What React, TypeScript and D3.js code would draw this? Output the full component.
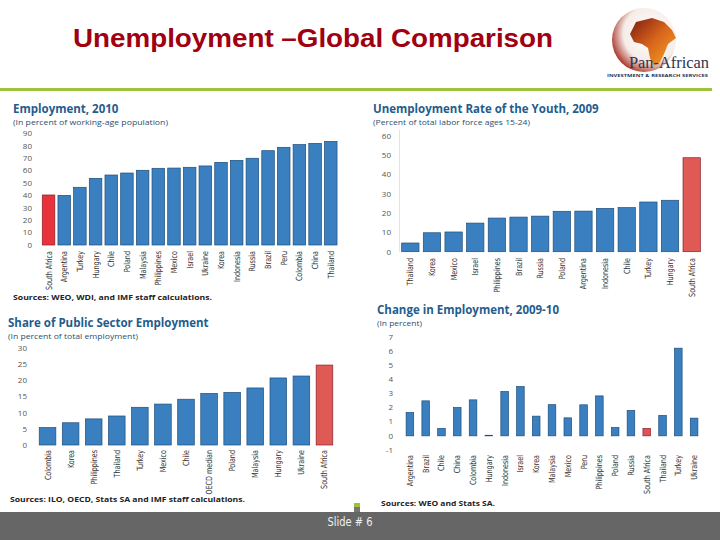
import React from 'react';
import * as d3 from 'd3';

// ---- data ----
const empCountries = ['South Africa', 'Argentina', 'Turkey', 'Hungary', 'Chile', 'Poland', 'Malaysia', 'Philippines', 'Mexico', 'Israel', 'Ukraine', 'Korea', 'Indonesia', 'Russia', 'Brazil', 'Peru', 'Colombia', 'China', 'Thailand'];
const empValues = [40.3, 40, 46.5, 53.7, 56.4, 58, 60.2, 61.8, 62, 62.6, 63.7, 66.6, 68.2, 69.9, 76, 78.7, 80.9, 81.9, 83.5];
const empTicks = [0, 10, 20, 30, 40, 50, 60, 70, 80, 90];

const youthCountries = ['Thailand', 'Korea', 'Mexico', 'Israel', 'Philippines', 'Brazil', 'Russia', 'Poland', 'Argentina', 'Indonesia', 'Chile', 'Turkey', 'Hungary', 'South Africa'];
const youthValues = [4.5, 9.8, 10.2, 14.8, 17.4, 17.9, 18.4, 20.9, 21, 22.4, 22.8, 25.7, 26.6, 48.6];
const youthTicks = [0, 10, 20, 30, 40, 50, 60];

const publicCountries = ['Colombia', 'Korea', 'Philippines', 'Thailand', 'Turkey', 'Mexico', 'Chile', 'OECD median', 'Poland', 'Malaysia', 'Hungary', 'Ukraine', 'South Africa'];
const publicValues = [5.4, 6.9, 8.1, 9.0, 11.7, 12.7, 14.2, 16.0, 16.3, 17.7, 20.8, 21.4, 24.8];
const publicTicks = [0, 5, 10, 15, 20, 25, 30];

const changeCountries = ['Argentina', 'Brazil', 'Chile', 'China', 'Colombia', 'Hungary', 'Indonesia', 'Israel', 'Korea', 'Malaysia', 'Mexico', 'Peru', 'Philippines', 'Poland', 'Russia', 'South Africa', 'Thailand', 'Turkey', 'Ukraine'];
const changeValues = [1.65, 2.47, 0.52, 2.0, 2.54, 0.04, 3.13, 3.48, 1.39, 2.2, 1.27, 2.19, 2.82, 0.59, 1.79, 0.52, 1.44, 6.19, 1.25];
const changeTicks = [-1, 0, 1, 2, 3, 4, 5, 6, 7];

const BLUE = '#3a80c1';
const BLUE_EDGE = '#1f4d78';
const TITLE_BLUE = '#1f5d8e';
const LABEL_FONT = '"Liberation Sans Narrow", "DejaVu Sans Condensed", Arial, sans-serif';
const HEAD_FONT = '"Open Sans", "DejaVu Sans", sans-serif';

type PanelProps = {
  title: string;
  subtitle: string;
  subtitleWidth: number;
  titleX: number;
  titleY: number;
  categories: string[];
  values: number[];
  ticks: number[];
  xRange: [number, number];
  yRange: [number, number];
  padInner: number;
  tickX: number;
  labelTop: number;
  red: string;
  axisLine?: boolean;
  source?: string;
  sourceX?: number;
  sourceY?: number;
  sourceWidth?: number;
};

const BarPanel = (p: PanelProps) => {
  const x = d3.scaleBand<string>()
    .domain(p.categories)
    .range(p.xRange)
    .paddingInner(p.padInner)
    .paddingOuter(p.padInner / 2);
  const y = d3.scaleLinear()
    .domain([p.ticks[0], p.ticks[p.ticks.length - 1]])
    .range(p.yRange);
  const y0 = y(Math.max(0, p.ticks[0]));

  return (
    <g>
      <text x={p.titleX} y={p.titleY - 1} fontFamily={HEAD_FONT} fontWeight="bold" fontSize={11.5} fill={TITLE_BLUE}>
        {p.title}
      </text>
      <text x={p.titleX} y={p.titleY + 11} fontFamily={HEAD_FONT} fontSize={8} fill="#2b4f72"
        textLength={p.subtitleWidth} lengthAdjust="spacingAndGlyphs">
        {p.subtitle}
      </text>

      {p.ticks.map(t => (
        <text key={t} x={p.tickX} y={y(t)} dy="0.35em" textAnchor="end"
          fontFamily={HEAD_FONT} fontSize={8} fill="#555">
          {t}
        </text>
      ))}

      {p.axisLine && (
        <line x1={p.xRange[0]} x2={p.xRange[0]} y1={p.yRange[1] - 6} y2={p.yRange[0]} stroke="#ddd" strokeWidth={0.8} />
      )}

      {p.categories.map((c, i) => {
        const v = p.values[i];
        const isSA = c === 'South Africa';
        return (
          <rect key={c}
            x={x(c)}
            y={Math.min(y(v), y0)}
            width={x.bandwidth()}
            height={Math.abs(y0 - y(v))}
            fill={isSA ? p.red : BLUE}
            stroke={isSA ? '#8a1f25' : BLUE_EDGE}
            strokeWidth={0.7}
          />
        );
      })}

      {p.categories.map(c => {
        const cx = (x(c) ?? 0) + x.bandwidth() / 2;
        return (
          <text key={c} transform={`translate(${cx},${p.labelTop}) rotate(-90) scale(0.84,1)`}
            dy="0.35em" textAnchor="end" fontFamily={LABEL_FONT} fontSize={8.5} fill="#333">
            {c}
          </text>
        );
      })}

      {p.source && (
        <text x={p.sourceX} y={p.sourceY} fontFamily={HEAD_FONT} fontWeight="bold" fontSize={7.8} fill="#222"
          textLength={p.sourceWidth} lengthAdjust="spacingAndGlyphs">
          {p.source}
        </text>
      )}
    </g>
  );
};

const Logo = () => (
  <g>
    <defs>
      <radialGradient id="globe" cx="0.62" cy="0.4" r="0.8">
        <stop offset="0" stopColor="#ffffff" />
        <stop offset="0.55" stopColor="#f6ece8" />
        <stop offset="0.82" stopColor="#a8362a" />
        <stop offset="1" stopColor="#5a0d0d" />
      </radialGradient>
      <linearGradient id="africa" x1="0" y1="0" x2="1" y2="1">
        <stop offset="0" stopColor="#7a1a10" />
        <stop offset="0.5" stopColor="#d9661c" />
        <stop offset="1" stopColor="#f5a623" />
      </linearGradient>
    </defs>
    <circle cx={644} cy={40} r={32} fill="url(#globe)" />
    <path d="M636,22 L652,18 L664,22 L672,30 L676,38 L668,44 L664,54 L660,62 L654,66 L650,58 L648,48 L642,44 L634,42 L630,34 Z"
      fill="url(#africa)" />
    <text x={629} y={68} fontFamily='"Liberation Serif", "DejaVu Serif", serif' fontSize={16} fill="#2c3550"
      textLength={80} lengthAdjust="spacingAndGlyphs">
      Pan-African
    </text>
    <text x={607} y={77} fontFamily={HEAD_FONT} fontSize={3.6} fontWeight="bold" fill="#2c3550"
      textLength={101} lengthAdjust="spacingAndGlyphs">
      INVESTMENT &amp; RESEARCH SERVICES
    </text>
  </g>
);

export default function App() {
  return (
    <svg width={720} height={540} style={{ position: 'absolute', left: 0, top: 0, background: '#fff' }}>
      <rect x={0} y={0} width={720} height={540} fill="#fff" />

      <text x={73} y={47} fontFamily='"Liberation Sans", Arial, sans-serif' fontWeight="bold" fontSize={26} fill="#a0000f"
        textLength={480} lengthAdjust="spacingAndGlyphs">
        Unemployment –Global Comparison
      </text>
      <rect x={0} y={88} width={712} height={3} fill="#9dc33b" />
      <Logo />

      <BarPanel
        title="Employment, 2010"
        subtitle="(In percent of working-age population)" subtitleWidth={155}
        titleX={13} titleY={114}
        categories={empCountries} values={empValues} ticks={empTicks}
        xRange={[40.7, 338.6]} yRange={[245, 133.3]} padInner={0.2}
        tickX={32} labelTop={251} red="#e8323c"
        source="Sources: WEO, WDI, and IMF staff calculations."
        sourceX={13} sourceY={300} sourceWidth={199}
      />

      <BarPanel
        title="Unemployment Rate of the Youth, 2009"
        subtitle="(Percent of total labor force ages 15-24)" subtitleWidth={157}
        titleX={373} titleY={114}
        categories={youthCountries} values={youthValues} ticks={youthTicks}
        xRange={[399.5, 702.5]} yRange={[251.7, 135.7]} padInner={0.2}
        tickX={391} labelTop={258} red="#e05a55" axisLine
      />

      <BarPanel
        title="Share of Public Sector Employment"
        subtitle="(In percent of total employment)" subtitleWidth={130}
        titleX={8} titleY={328}
        categories={publicCountries} values={publicValues} ticks={publicTicks}
        xRange={[36, 336]} yRange={[445, 348.3]} padInner={0.28}
        tickX={27} labelTop={450} red="#e05a55"
        source="Sources: ILO, OECD, Stats SA and IMF staff calculations."
        sourceX={10} sourceY={502} sourceWidth={235}
      />

      <BarPanel
        title="Change in Employment, 2009-10"
        subtitle="(In percent)" subtitleWidth={45}
        titleX={377} titleY={315}
        categories={changeCountries} values={changeValues} ticks={changeTicks}
        xRange={[402, 702]} yRange={[450, 336.7]} padInner={0.52}
        tickX={393} labelTop={455} red="#e0505a"
        source="Sources: WEO and Stats SA."
        sourceX={381} sourceY={506} sourceWidth={114}
      />

      <rect x={0} y={512} width={720} height={28} fill="#666666" />
      <rect x={354} y={503} width={6} height={4} fill="#9dc33b" />
      <rect x={354} y={507} width={6} height={5} fill="#777" />
      <text x={350} y={522} dy="0.35em" textAnchor="middle" fontFamily={LABEL_FONT} fontSize={12} fill="#f0f0f0"
        textLength={45} lengthAdjust="spacingAndGlyphs">
        Slide # 6
      </text>
    </svg>
  );
}
